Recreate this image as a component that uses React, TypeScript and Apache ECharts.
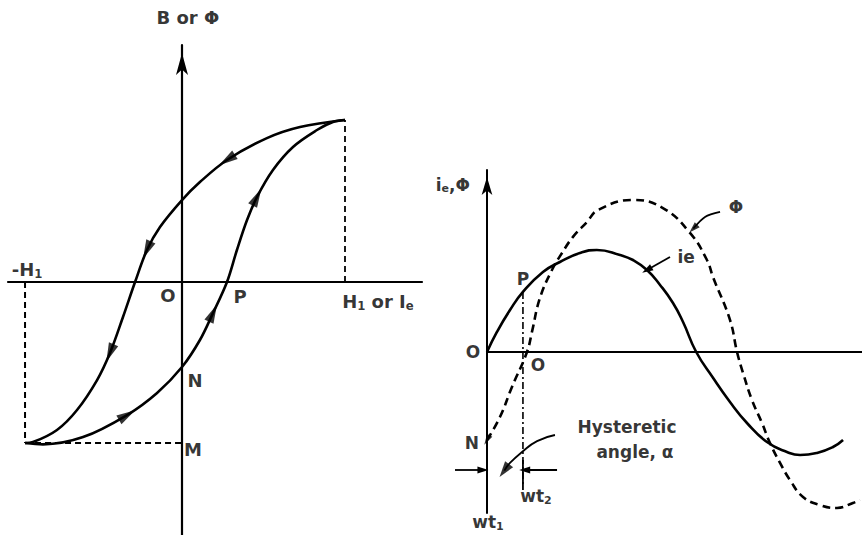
import React, { useEffect, useRef } from "react";
import * as echarts from "echarts";

type Pt = [number, number];

// B–H loop in per-unit terms: x = H / H1, y = B / Bmax
const loopFalling: Pt[] = [
  [1.0, 1.006], [0.724, 0.963], [0.521, 0.894], [0.276, 0.758], [0.11, 0.621],
  [0, 0.509], [-0.135, 0.342], [-0.215, 0.199], [-0.288, 0], [-0.362, -0.217],
  [-0.442, -0.441], [-0.521, -0.609], [-0.644, -0.795], [-0.767, -0.919],
  [-0.914, -0.994], [-0.963, -1.0],
];
const loopRising: Pt[] = [
  [-0.963, -1.0], [-0.853, -1.008], [-0.607, -0.963], [-0.337, -0.826],
  [-0.153, -0.689], [0, -0.528], [0.11, -0.36], [0.19, -0.193], [0.276, 0],
  [0.337, 0.199], [0.399, 0.385], [0.46, 0.528], [0.558, 0.696], [0.681, 0.839],
  [0.828, 0.944], [0.926, 0.994], [1.0, 1.006],
];
// points of each branch that carry a direction arrow
const fallingArrowIdx = [3, 7, 10];
const risingArrowIdx = [3, 7, 11];

// Waveforms against ωt (degrees); flux normalised to its peak
const exciting: Pt[] = [
  [0, 0], [8.6, 0.132], [19.9, 0.276], [31.1, 0.395], [48.4, 0.526], [63.1, 0.592],
  [80.4, 0.651], [95, 0.671], [115.1, 0.638], [126.3, 0.605], [138.4, 0.539],
  [149.7, 0.441], [160.9, 0.322], [169.6, 0.197], [181, 0], [195.5, -0.17],
  [210.2, -0.329], [224.9, -0.467], [242.2, -0.592], [259.5, -0.658], [270.8, -0.678],
  [285.5, -0.664], [299.3, -0.625], [308, -0.579],
];
const flux: Pt[] = [
  [0, -0.579], [11.2, -0.428], [21.6, -0.23], [34.6, 0], [38.9, 0.132], [45.8, 0.355],
  [56.2, 0.539], [64.9, 0.651], [74.4, 0.757], [86.5, 0.855], [96, 0.934], [126.3, 1.0],
  [152.2, 0.947], [175.6, 0.783], [190.3, 0.605], [195.5, 0.493], [210.2, 0.211],
  [216.3, 0], [221.5, -0.138], [229.2, -0.316], [237.9, -0.467], [244.8, -0.599],
  [253.5, -0.73], [262.1, -0.842], [273.4, -0.954], [288.1, -1.007], [302.8, -1.026],
  [316.6, -0.993], [322.7, -0.974],
];

const loopX = { min: -1.0675, max: 1.4724 };
const loopY = { min: -1.571, max: 1.472 };
const waveX = { min: -32, max: 324.4 };
const waveY = { min: -1.059, max: 1.197 };

// hysteretic angle construction below the time axis
const pointP = exciting[3];
const markerLevel = -0.776;
const projectionFoot = -0.87;
const t2TickSpan: [number, number] = [-0.711, -0.908];
const t1BarStart = -27.7;
const t1BarEnd = -3.5;
const t2BarStart = 60.6;
const hystereticLeader: Pt[] = [[58.8, -0.546], [43.3, -0.586], [30.3, -0.658], [19.9, -0.73], [15, -0.78]];
const ieLeader: Pt[] = [[158.3, 0.625], [138.4, 0.539]];
const phiLeader: Pt[] = [[201.6, 0.921], [188.6, 0.888], [178.5, 0.812]];

const loopLabels: { text: string; at: Pt }[] = [
  { text: "B or Φ", at: [0.036, 1.64] },
  { text: "{t|-H}{s|1}", at: [-0.95, 0.08] },
  { text: "O", at: [-0.086, -0.081] },
  { text: "P", at: [0.356, -0.087] },
  { text: "{t|H}{s|1}{t| or I}{s|e}", at: [1.202, -0.118] },
  { text: "N", at: [0.08, -0.609] },
  { text: "M", at: [0.067, -1.037] },
];
const waveLabels: { text: string; at: Pt }[] = [
  { text: "{t|i}{s|e}{t|,Φ}", at: [-29.5, 1.1] },
  { text: "P", at: [31.1, 0.48] },
  { text: "O", at: [-12.1, 0] },
  { text: "O", at: [44.1, -0.086] },
  { text: "N", at: [-13.0, -0.599] },
  { text: "ie", at: [172.3, 0.625] },
  { text: "Φ", at: [215.4, 0.954] },
  { text: "Hysteretic", at: [121.1, -0.493] },
  { text: "angle, α", at: [128.0, -0.658] },
  { text: "{t|wt}{s|2}", at: [42.4, -0.95] },
  { text: "{t|wt}{s|1}", at: [0.9, -1.12] },
];

const INK = "#000";
const FONT = "DejaVu Sans";

const loopGrid = { left: 8, top: 45, width: 414, height: 490 };
const waveGrid = { left: 450, top: 170, width: 412, height: 343 };

function arrowItem(pts: Pt[], i: number, sx: number, sy: number, reverse = false) {
  const a = pts[Math.max(i - 1, 0)];
  const b = pts[Math.min(i + 1, pts.length - 1)];
  let ang = (Math.atan2((b[1] - a[1]) * sy, (b[0] - a[0]) * sx) * 180) / Math.PI;
  if (reverse) ang += 180;
  return { value: pts[i], symbolRotate: ang - 90 };
}

function labelSeries(list: { text: string; at: Pt }[], idx: number, size: number) {
  return {
    type: "scatter",
    xAxisIndex: idx,
    yAxisIndex: idx,
    clip: false,
    silent: true,
    symbolSize: 1,
    itemStyle: { color: "rgba(0,0,0,0)" },
    label: {
      show: true,
      position: "inside",
      color: INK,
      fontFamily: FONT,
      fontWeight: "bold",
      fontSize: size,
      rich: {
        t: { fontFamily: FONT, fontWeight: "bold", fontSize: size, color: INK },
        s: { fontFamily: FONT, fontWeight: "bold", fontSize: size * 0.65, color: INK, padding: [size * 0.5, 0, 0, 0] },
      },
    },
    data: list.map((l) => ({ value: l.at, label: { formatter: l.text } })),
  };
}

function guide(points: Pt[], idx: number, type: any, width = 2, smooth = 0) {
  return {
    type: "line",
    xAxisIndex: idx,
    yAxisIndex: idx,
    silent: true,
    symbol: "none",
    smooth,
    data: points,
    lineStyle: { color: INK, width, type },
  };
}

// straight arrowed leaders
function arrowLines(points: Pt[][], headSize: number[]) {
  return {
    type: "line",
    xAxisIndex: 1,
    yAxisIndex: 1,
    silent: true,
    symbol: "none",
    data: [],
    markLine: {
      silent: true,
      animation: false,
      symbol: ["none", "triangle"],
      symbolSize: headSize,
      label: { show: false },
      emphasis: { disabled: true },
      lineStyle: { color: INK, width: 1.8, type: "solid" },
      data: points.map((p) => [{ coord: p[0] }, { coord: p[1] }]),
    },
  };
}

const hiddenAxis = {
  axisTick: { show: false },
  axisLabel: { show: false },
  splitLine: { show: false },
};

export default function App() {
  const ref = useRef<HTMLDivElement>(null);

  useEffect(() => {
    if (!ref.current) return;
    const chart = echarts.init(ref.current, undefined, { renderer: "svg" });

    const lsx = loopGrid.width / (loopX.max - loopX.min);
    const lsy = loopGrid.height / (loopY.max - loopY.min);
    const wsx = waveGrid.width / (waveX.max - waveX.min);
    const wsy = waveGrid.height / (waveY.max - waveY.min);

    const loopArrows = [
      ...fallingArrowIdx.map((i) => arrowItem(loopFalling, i, lsx, lsy)),
      ...risingArrowIdx.map((i) => arrowItem(loopRising, i, lsx, lsy)),
    ];
    const tipHi = loopFalling[0];
    const tipLo = loopFalling[loopFalling.length - 1];

    const hl = hystereticLeader.length - 1;
    const pl = phiLeader.length - 1;

    chart.setOption({
      animation: false,
      backgroundColor: "#fff",
      grid: [
        { ...loopGrid, containLabel: false },
        { ...waveGrid, containLabel: false },
      ],
      xAxis: [
        {
          gridIndex: 0, type: "value", min: loopX.min, max: loopX.max,
          axisLine: { show: true, onZero: true, lineStyle: { color: INK, width: 2.2 } },
          ...hiddenAxis,
        },
        {
          gridIndex: 1, type: "value", min: waveX.min, max: waveX.max,
          axisLine: { show: false },
          ...hiddenAxis,
        },
      ],
      yAxis: [
        {
          gridIndex: 0, type: "value", min: loopY.min, max: loopY.max,
          axisLine: {
            show: true, onZero: true, symbol: ["none", "arrow"], symbolSize: [9, 22],
            symbolOffset: [0, -8],
            lineStyle: { color: INK, width: 2.2 },
          },
          ...hiddenAxis,
        },
        {
          gridIndex: 1, type: "value", min: waveY.min, max: waveY.max,
          axisLine: {
            show: true, onZero: true, symbol: ["none", "arrow"], symbolSize: [8, 18],
            symbolOffset: [0, -7],
            lineStyle: { color: INK, width: 2 },
          },
          ...hiddenAxis,
        },
      ],
      series: [
        // hysteresis loop
        {
          type: "line", xAxisIndex: 0, yAxisIndex: 0, silent: true, symbol: "none",
          smooth: 0.35, data: loopFalling, lineStyle: { color: INK, width: 2.6 },
        },
        {
          type: "line", xAxisIndex: 0, yAxisIndex: 0, silent: true, symbol: "none",
          smooth: 0.35, data: loopRising, lineStyle: { color: INK, width: 2.6 },
        },
        guide([[tipHi[0], 0], tipHi], 0, [6, 4], 1.8),
        guide([[tipLo[0], 0], tipLo], 0, [6, 4], 2),
        guide([tipLo, [0, tipLo[1]]], 0, [6, 4], 2),
        {
          type: "scatter", xAxisIndex: 0, yAxisIndex: 0, silent: true, clip: false,
          symbol: "triangle", symbolSize: [10, 19], itemStyle: { color: INK },
          data: loopArrows,
        },
        labelSeries(loopLabels, 0, 18),

        // time axis
        {
          type: "line", xAxisIndex: 1, yAxisIndex: 1, silent: true, symbol: "none",
          data: [[0, 0], [waveX.max, 0]], lineStyle: { color: INK, width: 2 },
        },
        arrowLines(
          [
            [[t1BarStart, markerLevel], [t1BarEnd, markerLevel]],
            [[t2BarStart, markerLevel], [pointP[0] + 1.5, markerLevel]],
            [ieLeader[0], ieLeader[1]],
          ],
          [7, 11]
        ),
        // curved leaders from the annotations
        guide(hystereticLeader, 1, "solid", 1.8, 0.5),
        guide(phiLeader, 1, "solid", 1.8, 0.3),
        {
          type: "scatter", xAxisIndex: 1, yAxisIndex: 1, silent: true, clip: false,
          symbol: "triangle", itemStyle: { color: INK },
          data: [
            { ...arrowItem(flux, 0, wsx, wsy, true), symbolSize: [6, 11] },
            { ...arrowItem(hystereticLeader, hl, wsx, wsy), symbolSize: [10, 16] },
            { ...arrowItem(phiLeader, pl, wsx, wsy), symbolSize: [7, 11] },
          ],
        },
        {
          type: "line", xAxisIndex: 1, yAxisIndex: 1, silent: true, symbol: "none",
          smooth: 0.5, data: exciting, lineStyle: { color: INK, width: 2.6 },
        },
        {
          type: "line", xAxisIndex: 1, yAxisIndex: 1, silent: true, symbol: "none",
          smooth: 0.45, data: flux, lineStyle: { color: INK, width: 2.6, type: [8, 5] },
        },
        guide([pointP, [pointP[0], projectionFoot]], 1, [7, 3, 2, 3], 1.6),
        guide([[pointP[0], t2TickSpan[0]], [pointP[0], t2TickSpan[1]]], 1, "solid", 1.8),
        labelSeries(waveLabels, 1, 17),
      ],
    });

    return () => chart.dispose();
  }, []);

  return (
    <div
      ref={ref}
      style={{ position: "fixed", left: 0, top: 0, width: 862, height: 535, background: "#fff" }}
    />
  );
}
